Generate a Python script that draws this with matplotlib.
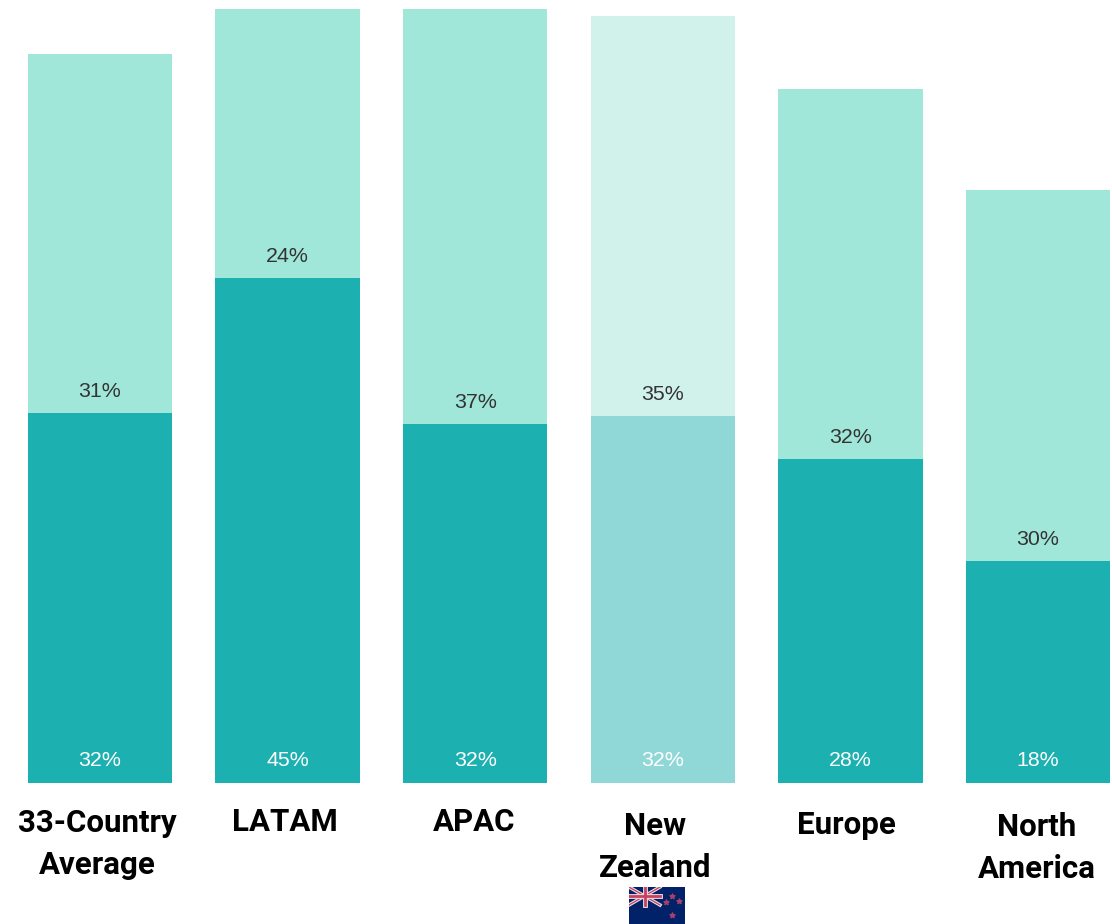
import matplotlib
matplotlib.use('Agg')
import matplotlib.pyplot as plt
from matplotlib.patches import Rectangle
import numpy as np

categories = ['33-Country\nAverage', 'LATAM', 'APAC', 'New\nZealand', 'Europe', 'North\nAmerica']
# segment heights as drawn in the picture, labels as printed on it
lower_values = [33.0, 45.0, 32.0, 32.7, 28.9, 19.8]
upper_values = [32.0, 24.0, 37.0, 35.7, 32.95, 33.05]
lower_labels = ['32%', '45%', '32%', '32%', '28%', '18%']
upper_labels = ['31%', '24%', '37%', '35%', '32%', '30%']

W, H = 1112, 924
base_px = 783
px_per_pct = 11.22

dark = '#1DB0B0'
light = '#A0E7DA'
nz_dark = '#90D8D7'
nz_light = '#D0F2EB'
lower_colors = [dark, dark, dark, nz_dark, dark, dark]
upper_colors = [light, light, light, nz_light, light, light]

# where the category text sits, in pixels from top left
label_x = [97, 285, 474, 655, 846, 1037]
label_y = [844, 822, 822, 847, 825, 848]

fig = plt.figure(figsize=(W / 100, H / 100), dpi=100)
ax = fig.add_axes([0, (H - base_px) / H, 1, base_px / H])
step = 187.6
ax.set_xlim(-100 / step, (W - 100) / step)
ax.set_ylim(0, base_px / px_per_pct)
ax.axis('off')

x = np.arange(len(categories))
lower = np.array(lower_values)
upper = np.array(upper_values)
ax.bar(x, lower, width=0.77, color=lower_colors)
ax.bar(x, upper, width=0.77, bottom=lower, color=upper_colors)

pt = 0.72  # pixels to points at dpi 100
for i in x:
  ax.annotate(lower_labels[i], (i, 0), xytext=(0, 22 * pt), textcoords='offset points',
              ha='center', va='center', color='white', fontsize=15.4, family='Liberation Sans')
  ax.annotate(upper_labels[i], (i, lower[i]), xytext=(0, 21.5 * pt), textcoords='offset points',
              ha='center', va='center', color='#333333', fontsize=15.4, family='Liberation Sans')
  fig.text(label_x[i] / W, 1 - label_y[i] / H, categories[i], ha='center', va='center',
           fontsize=22.5, fontweight='bold', family='Roboto', color='black', linespacing=1.48)

# New Zealand flag under its label
flag = fig.add_axes([629 / W, 0, 56 / W, 37 / H])
flag.set_xlim(0, 56)
flag.set_ylim(37, 0)
flag.axis('off')
flag.add_patch(Rectangle((0, 0), 56, 37, color='#012169'))
flag.plot([0, 31], [0, 18], color='#E8DDE4', lw=2.5)
flag.plot([0, 31], [18, 0], color='#E8DDE4', lw=2.5)
flag.plot([0, 31], [0, 18], color='#C8405E', lw=0.9)
flag.plot([0, 31], [18, 0], color='#C8405E', lw=0.9)
flag.plot([15.5, 15.5], [0, 18], color='#E8DDE4', lw=3.5)
flag.plot([0, 31], [9, 9], color='#E8DDE4', lw=3.5)
flag.plot([15.5, 15.5], [0, 18], color='#C8405E', lw=2)
flag.plot([0, 31], [9, 9], color='#C8405E', lw=2)
flag.scatter([43, 37, 50, 43], [9, 15, 14, 28], s=14, marker='*', color='#A84068', zorder=3)

fig.savefig('out.png', dpi=100)
